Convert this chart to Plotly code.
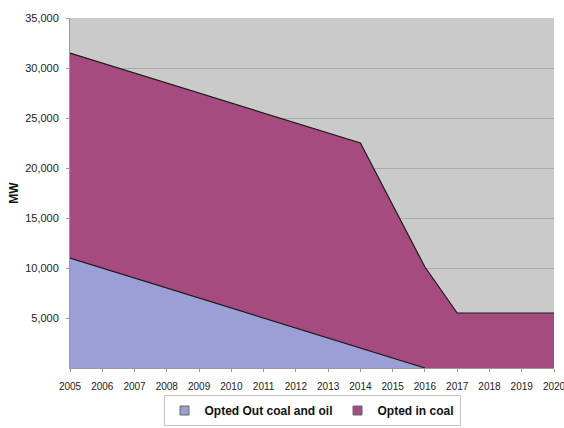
import plotly.graph_objects as go

years = [2005, 2006, 2007, 2008, 2009, 2010, 2011, 2012, 2013, 2014, 2015, 2016, 2017, 2018, 2019, 2020]
opted_out = [11000, 10000, 9000, 8000, 7000, 6000, 5000, 4000, 3000, 2000, 1000, 0]  # through 2016
opted_in = [20500, 20500, 20500, 20500, 20500, 20500, 20500, 20500, 20500, 20500, 15300, 10100,
            5500, 5500, 5500, 5500]
y_ticks = [5000, 10000, 15000, 20000, 25000, 30000, 35000]
y_tick_text = ["5,000", "10,000", "15,000", "20,000", "25,000", "30,000", "35,000"]

out_color = "#9c9fd6"
in_color = "#a64b80"

out_full = opted_out + [0] * (len(years) - len(opted_out))
total = [a + b for a, b in zip(out_full, opted_in)]

sans = "Liberation Sans, Arial, sans-serif"

fig = go.Figure()
# stacked areas: the upper band is filled down to zero, the lower band drawn over it
fig.add_trace(go.Scatter(
    x=years, y=total, name="Opted in coal", mode="lines",
    fill="tozeroy", fillcolor=in_color,
    line=dict(color="#1a1a1a", width=1.2), showlegend=False,
))
fig.add_trace(go.Scatter(
    x=years[:len(opted_out)], y=opted_out, name="Opted Out coal and oil", mode="lines",
    fill="tozeroy", fillcolor=out_color,
    line=dict(color="#1a1a1a", width=1.2), showlegend=False,
))
# square legend keys
for name, color in [("Opted Out coal and oil", out_color), ("Opted in coal", in_color)]:
    fig.add_trace(go.Scatter(
        x=[None], y=[None], name=name, mode="markers",
        marker=dict(symbol="square", size=9, color=color,
                    line=dict(color="#666666", width=1)),
    ))

fig.update_layout(
    width=564, height=428,
    margin=dict(l=70, r=10, t=18, b=60, autoexpand=False),
    paper_bgcolor="white",
    plot_bgcolor="#cacaca",
    font=dict(family=sans, color="#222222"),
    showlegend=True,
    legend=dict(
        orientation="h", x=0.5, xanchor="center",
        yref="container", y=1 - 426 / 428, yanchor="bottom",
        bordercolor="#c4c4c4", borderwidth=1, bgcolor="white",
        font=dict(family=sans, size=12, color="#111111", weight="bold"),
        itemwidth=30, traceorder="normal", tracegroupgap=0,
    ),
    xaxis=dict(
        range=[2005, 2020], tickmode="array", tickvals=years,
        ticktext=[str(y) for y in years],
        tickfont=dict(family=sans, size=10, color="#222222"),
        ticklabeloverflow="allow", automargin=False, ticklabelstandoff=6,
        showgrid=False, zeroline=False,
        showline=True, linecolor="#9a9a9a", linewidth=1,
        ticks="outside", ticklen=3, tickcolor="#9a9a9a",
    ),
    yaxis=dict(
        range=[0, 35000], tickmode="array", tickvals=y_ticks, ticktext=y_tick_text,
        tickfont=dict(family=sans, size=11, color="#222222"),
        automargin=False, ticklabelstandoff=5,
        showgrid=True, gridcolor="#a9a9a9", gridwidth=1,
        zeroline=False, showline=True, linecolor="#9a9a9a", linewidth=1,
        ticks="outside", ticklen=3, tickcolor="#9a9a9a",
        title=dict(text="MW", font=dict(family=sans, size=12, weight="bold", color="#111111"),
                   standoff=3),
    ),
)

fig.write_html("out.html")
